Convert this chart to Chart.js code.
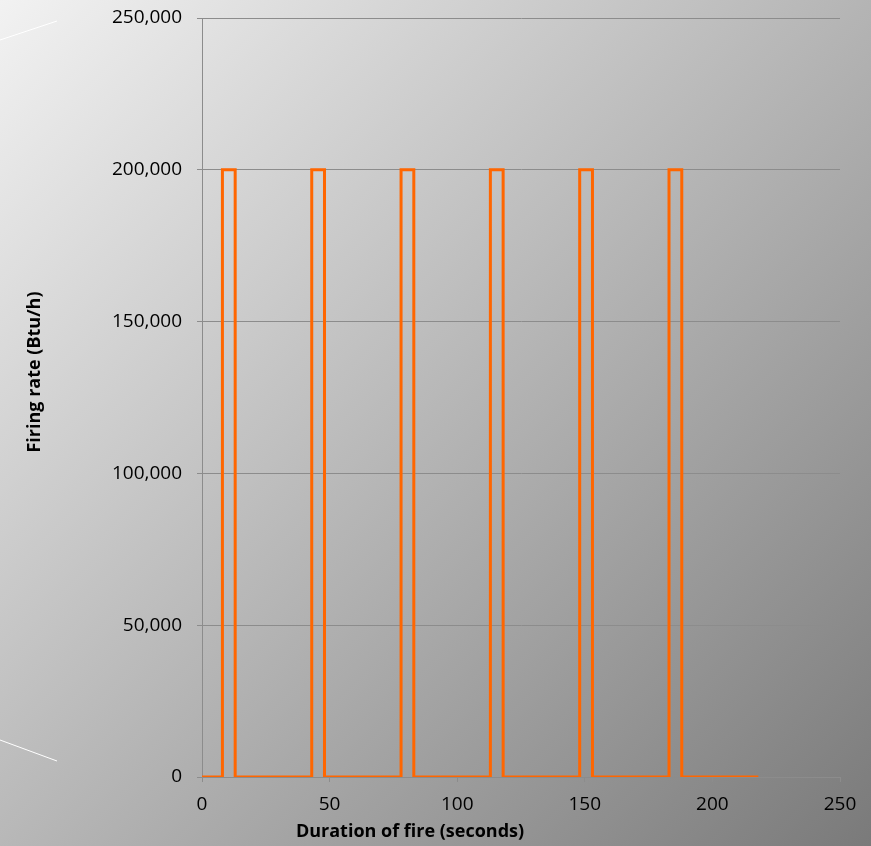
<!DOCTYPE html>
<html>
<head>
<meta charset="utf-8">
<script src="https://cdn.jsdelivr.net/npm/chart.js@4"></script>
<style>
  html, body { margin: 0; padding: 0; }
  #wrap { width: 871px; height: 846px; position: relative; }
</style>
</head>
<body>
<div id="wrap"><canvas id="firingChart" width="871" height="846"></canvas></div>
<script>
// Durée du feu (s) et débit calorifique (Btu/h)
var times = [0, 8, 8, 13, 13, 43, 43, 48, 48, 78, 78, 83, 83, 113, 113, 118, 118, 148, 148, 153, 153, 183, 183, 188, 188, 218];
var rates = [0, 0, 200000, 200000, 0, 0, 200000, 200000, 0, 0, 200000, 200000, 0, 0, 200000, 200000, 0, 0, 200000, 200000, 0, 0, 200000, 200000, 0, 0];
var xTicks = [0, 50, 100, 150, 200, 250];
var yTicks = [0, 50000, 100000, 150000, 200000, 250000];
var xTitle = 'Duration of fire (seconds)';
var yTitle = 'Firing rate (Btu/h)';

var points = times.map(function (t, i) { return { x: t, y: rates[i] }; });

// fond dégradé + traits blancs décoratifs
var background = {
  id: 'background',
  beforeDraw: function (chart) {
    var c = chart.ctx;
    var w = chart.width, h = chart.height;
    c.save();
    var g = c.createLinearGradient(0, 0, w, h);
    g.addColorStop(0, '#f2f2f2');
    g.addColorStop(1, '#7a7a7a');
    c.fillStyle = g;
    c.fillRect(0, 0, w, h);
    c.strokeStyle = '#ffffff';
    c.lineWidth = 1;
    c.beginPath();
    c.moveTo(0, 40); c.lineTo(57, 21);
    c.moveTo(0, 740); c.lineTo(57, 761);
    c.stroke();
    c.restore();
  }
};

// titres des axes (décalés comme dans l'original)
var axisTitles = {
  id: 'axisTitles',
  afterDraw: function (chart) {
    var c = chart.ctx;
    c.save();
    c.fillStyle = '#000';
    c.font = 'bold 18px "Open Sans"';
    c.textAlign = 'center';
    c.textBaseline = 'middle';
    c.fillText(xTitle, 410, 832);
    c.translate(35, 372);
    c.rotate(-Math.PI / 2);
    c.fillText(yTitle, 0, 0);
    c.restore();
  }
};

var ctx = document.getElementById('firingChart').getContext('2d');
var firingChart = new Chart(ctx, {
  type: 'line',
  data: {
    datasets: [{
      label: 'Firing rate',
      data: points,
      borderColor: '#ff6600',
      borderWidth: 3,
      pointRadius: 0,
      fill: false,
      tension: 0
    }]
  },
  options: {
    responsive: false,
    animation: false,
    layout: { padding: { left: 22, right: 31, top: 0, bottom: 0 } },
    plugins: {
      legend: { display: false },
      tooltip: { enabled: false }
    },
    scales: {
      x: {
        type: 'linear',
        min: 0, max: 250,
        afterBuildTicks: function (s) { s.ticks = xTicks.map(function (v) { return { value: v }; }); },
        grid: { drawOnChartArea: false, color: '#8c8c8c', tickLength: 5 },
        border: { color: '#8c8c8c' },
        ticks: { color: '#000', font: { family: 'Open Sans', size: 19 }, padding: 11, maxRotation: 0 },
        afterFit: function (s) { s.height = 69; }
      },
      y: {
        min: 0, max: 250000,
        afterBuildTicks: function (s) { s.ticks = yTicks.map(function (v) { return { value: v }; }); },
        grid: { color: '#8c8c8c', tickLength: 5 },
        border: { color: '#8c8c8c' },
        ticks: {
          color: '#000',
          font: { family: 'Open Sans', size: 19 },
          padding: 15,
          callback: function (v) { return v.toLocaleString('en-US'); }
        },
        afterFit: function (s) { s.width = 180; s.paddingTop = 18; s.paddingBottom = 0; }
      }
    }
  },
  plugins: [background, axisTitles]
});
</script>
</body>
</html>
